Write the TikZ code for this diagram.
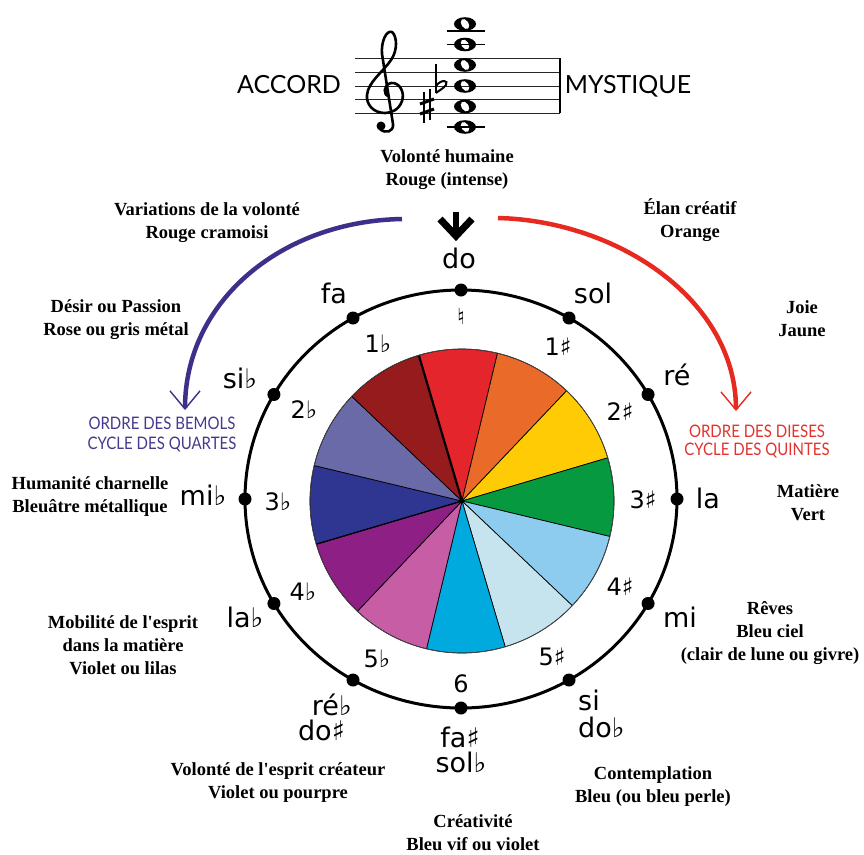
\documentclass[tikz,border=0pt]{standalone}
\usepackage{fontspec}
\setmainfont{Liberation Serif}
\newfontfamily\notefont{DejaVu Sans}
\newfontfamily\titlefont{Lato}
\usetikzlibrary{arrows.meta}
\definecolor{cred}{HTML}{E4262C}
\definecolor{corange}{HTML}{EA6A2A}
\definecolor{cyellow}{HTML}{FECB05}
\definecolor{cgreen}{HTML}{07993F}
\definecolor{clblue}{HTML}{8DCBEF}
\definecolor{cpale}{HTML}{C5E4EE}
\definecolor{ccyan}{HTML}{00A9DE}
\definecolor{cpink}{HTML}{C75EA5}
\definecolor{cpurple}{HTML}{8D1F85}
\definecolor{cnavy}{HTML}{2E3691}
\definecolor{cgrey}{HTML}{6B6AA8}
\definecolor{cdred}{HTML}{951B1C}
\definecolor{arrblue}{HTML}{3E2F8A}
\definecolor{txtblue}{HTML}{46388C}
\definecolor{arrred}{HTML}{E62A20}
\definecolor{txtred}{HTML}{E2332E}
\newcommand\wnote[2]{\begin{scope}[shift={(#1,#2)}]\pgfpathellipse{\pgfpointorigin}{\pgfpoint{11pt}{0pt}}{\pgfpoint{0pt}{6.8pt}}\pgfpathellipse{\pgfpointorigin}{\pgfpoint{3pt}{2.2pt}}{\pgfpoint{-3.2pt}{4.6pt}}\pgfseteorule\pgfusepath{fill}\end{scope}}
\newcommand\apos{\textquotesingle}
\newcommand\tallcaps[1]{\scalebox{1}[1.15]{#1}}
\begin{document}
\begin{tikzpicture}[x=1pt,y=-1pt,
  desc/.style={font=\fontsize{18.5}{23}\selectfont\bfseries, align=center, inner sep=0pt},
  nname/.style={font=\notefont\fontsize{27}{27}\selectfont, inner sep=0pt, anchor=base},
  knum/.style={font=\notefont\fontsize{24}{24}\selectfont, inner sep=0pt, anchor=base},
  dot/.style={circle, fill=black, inner sep=0pt, minimum size=13pt},
  title/.style={font=\titlefont\fontsize{25}{25}\selectfont, inner sep=0pt, anchor=base},
  cycletxt/.style={font=\titlefont\fontsize{15}{15}\selectfont, inner sep=0pt, anchor=base},
  staffline/.style={line width=1pt, black!85},
  wedge/.style={draw=black, line width=0.7pt}]
\useasboundingbox (0,0) rectangle (864,854);
\fill[white] (0,0) rectangle (864,854);
\coordinate (C) at (461,499);
\coordinate (P) at (462,501);

% ---- title and staff
\node[title] (accord) at (289,93) {ACCORD};
\node[title] (mystique) at (628,93) {MYSTIQUE};
\foreach \y in {58.3,72,86,99.3,113.3} \draw[staffline] (355,\y) -- (560,\y);
\draw[line width=1.2pt] (560,58.3) -- (560,113.3);
\foreach \y in {31,44.5,127} \draw[line width=1.2pt] (447,\y) -- (485,\y);
\draw[line width=2.6pt, line cap=round, line join=round]
  (389,97) .. controls (383,95) and (383,85) .. (391,83)
  .. controls (400,82) and (405,93) .. (402,101)
  .. controls (399,110) and (391,113) .. (385,113)
  .. controls (373,113) and (366,104) .. (367,95)
  .. controls (368,82) and (383,72) .. (391,60)
  .. controls (398,50) and (397,36) .. (392,32)
  .. controls (386,30) and (381,42) .. (382,54)
  -- (393,124)
  .. controls (394,132) and (385,134) .. (380,129);
\fill (381,126) circle[radius=4.5pt];
\draw[line width=1.3pt] (424,92) -- (424,123) (430,89) -- (430,120);
\draw[line width=3pt] (420,104) -- (434,99) (420,114) -- (434,109);
\draw[line width=1.5pt] (436,64) -- (436,93);
\draw[line width=2pt] (436,86) .. controls (441,79) and (449,80) .. (446,85) .. controls (443,89) and (438,91) .. (436,93);
\wnote{465}{24}
\wnote{465}{44.5}
\wnote{465}{65}
\wnote{465}{86}
\wnote{465}{106.5}
\wnote{465}{127}

% ---- descriptions
\node[desc] (t1) at (447,170) {Volonté humaine\\Rouge (intense)};
\node[desc] (t2) at (207,223) {Variations de la volonté\\Rouge cramoisi};
\node[desc] (t3) at (690,220) {Élan créatif\\Orange};
\node[desc] (t4) at (116,320) {Désir ou Passion\\Rose ou gris métal};
\node[desc] (t5) at (802,319) {Joie\\Jaune};
\node[desc] (t6) at (90,497) {Humanité charnelle\\Bleuâtre métallique};
\node[desc] (t7) at (808,503) {Matière\\Vert};
\node[desc] (t8) at (123,645) {Mobilité de l\apos esprit\\dans la matière\\Violet ou lilas};
\node[desc] (t9) at (770,633) {Rêves\\Bleu ciel\\(clair de lune ou givre)};
\node[desc] (t10) at (278,783) {Volonté de l\apos esprit créateur\\Violet ou pourpre};
\node[desc] (t11) at (653,787) {Contemplation\\Bleu (ou bleu perle)};
\node[desc] (t12) at (473,833) {Créativité\\Bleu vif ou violet};

% ---- cycle arrows
\coordinate (bs) at (402,219);
\coordinate (be) at (185,410);
\coordinate (rs) at (498,218);
\coordinate (re) at (736,411);
\draw[arrblue, line width=4.5pt, -{Straight Barb[length=18pt,width=30pt,line width=1.4pt]}]
  (bs) .. controls (283,221) and (185,300) .. (be);
\draw[arrred, line width=4.5pt, -{Straight Barb[length=18pt,width=30pt,line width=1.4pt]}]
  (rs) .. controls (618,221) and (736,300) .. (re);
\node[cycletxt, txtblue] (b1) at (162,429) {\tallcaps{ORDRE DES BEMOLS}};
\node[cycletxt, txtblue] (b2) at (162,449) {\tallcaps{CYCLE DES QUARTES}};
\node[cycletxt, txtred] (r1) at (757,437) {\tallcaps{ORDRE DES DIESES}};
\node[cycletxt, txtred] (r2) at (757,455) {\tallcaps{CYCLE DES QUINTES}};

% ---- top arrow
\draw[line width=6pt] (456,212) -- (456,236);
\draw[line width=7pt, miter limit=10] (440,219) -- (456,236) -- (472,219);

% ---- pie
\foreach \a/\c in {76.5/cred, 46.5/corange, 16.5/cyellow, -13.5/cgreen, -43.5/clblue, -73.5/cpale, -103.5/ccyan, -133.5/cpink, -163.5/cpurple, -193.5/cnavy, -223.5/cgrey, -253.5/cdred}
  \filldraw[wedge, fill=\c] (P) -- ++(\a:152pt) arc[start angle=\a, end angle=\a+30, radius=152pt] -- cycle;
\draw[line width=2.2pt] (P) -- ++(106.5:152pt);
\draw[line width=1.2pt] (P) -- ++(196.5:152pt);
\draw[line width=0.6pt, black!70] (P) circle[radius=152pt];

% ---- outer circle
\draw[line width=3pt] (C) ellipse[x radius=216pt, y radius=209pt];
\foreach \a/\n in {90/do, 60/sol, 30/re, 0/la, -30/mi, -60/si, -90/fas, -120/reb, -150/lab, 180/mib, 150/sib, 120/fa}
  \path (C) ++(\a:216pt and 209pt) node[dot] (d\n) {};

% ---- note names
\node[nname] (ldo) at (459,268) {do};
\node[nname] (lsol) at (593,303) {sol};
\node[nname] (lre) at (677,385) {ré};
\node[nname] (lla) at (708,508) {la};
\node[nname] (lmi) at (680,627) {mi};
\node[nname, anchor=base west] (lsi) at (578,710) {si};
\node[nname, anchor=base west] (ldob) at (578,737) {do♭};
\node[nname] (lfas) at (460,747) {fa♯};
\node[nname] (lsolb) at (461,772) {sol♭};
\node[nname, anchor=base east] (lreb) at (352,715) {ré♭};
\node[nname, anchor=base east] (ldos) at (345,740) {do♯};
\node[nname] (llab) at (245,627) {la♭};
\node[nname] (lmib) at (203,505) {mi♭};
\node[nname] (lsib) at (240,388) {si♭};
\node[nname] (lfa) at (334,303) {fa};

% ---- key numbers
\node[font=\notefont\fontsize{22}{22}\selectfont, inner sep=0pt] (k0) at (461,316) {♮};
\node[knum] (kb1) at (378,352) {1♭};
\node[knum] (kb2) at (304,418) {2♭};
\node[knum] (kb3) at (278,510) {3♭};
\node[knum] (kb4) at (303,600) {4♭};
\node[knum] (kb5) at (377,667) {5♭};
\node[knum] (k6) at (461,692) {6};
\node[knum] (ks5) at (552,665) {5♯};
\node[knum] (ks4) at (620,595) {4♯};
\node[knum] (ks3) at (643,508) {3♯};
\node[knum] (ks2) at (620,420) {2♯};
\node[knum] (ks1) at (558,355) {1♯};
\end{tikzpicture}
\end{document}
